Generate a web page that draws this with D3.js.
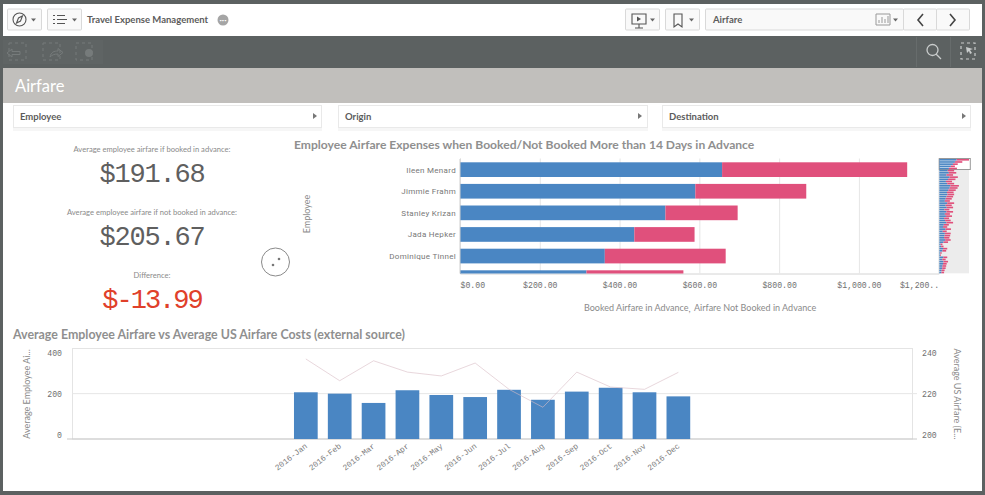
<!DOCTYPE html>
<html><head><meta charset="UTF-8"><title>Airfare</title>
<script src="https://cdn.jsdelivr.net/npm/d3@7"></script>
<style>
	html,body { margin:0; padding:0; background:#fff; overflow:hidden; }
	svg { display:block; }
	text { font-family:"Lato",sans-serif; }
	.mono { font-family:"Liberation Mono",monospace; }
	.bold { font-weight:700; }
</style>
</head><body>
<svg id="chart" width="985" height="495"></svg>
<script>
// bar chart data
var employees=["Ileen Menard","Jimmie Frahm","Stanley Krizan","Jada Hepker","Dominique Tinnel",""];
var booked=[657,590,515,437,363,317];
var notBooked=[464,278,181,151,303,243];
var priceTicks=[0,200,400,600,800,1000,1200];
// scrollbar overview, one row for each employee, top rows are the big chart
var miniBooked=[657,590,515,437,363,317,360,270,390,330,250,300,420,390,340,290,310,270,240,210,300,240,280,190,270,210,250,180,220,270,170,140,230,130,210,200,180,220,160,50,70,140,120,40,30,150,110,160,140,120,110,90,80];
var miniNotBooked=[464,278,181,151,303,243,280,250,310,280,230,260,320,300,280,250,250,250,230,190,260,230,240,190,250,190,230,190,210,250,190,160,210,150,220,210,200,210,170,70,90,160,140,50,30,150,130,170,140,140,130,110,100];
// combo chart data
var months=["2016-Jan","2016-Feb","2016-Mar","2016-Apr","2016-May","2016-Jun","2016-Jul","2016-Aug","2016-Sep","2016-Oct","2016-Nov","2016-Dec"];
var avgEmployee=[206,200,159,215,194,185,217,173,209,226,206,188];
var avgUS=[235.3,225.7,234.5,229.5,227.8,233.5,221.9,214,229.5,222.9,221.9,229.4];
var leftTicks=[0,200,400];
var rightTicks=[200,220,240];

var BLUE='#4a86c3', PINK='#e0507c', FRAME='#5c6161', TICK='#6f6f6f';
var svg=d3.select('#chart');

function txt(x,y,s,size,fill,anchor,cls){
	return svg.append('text').attr('x',x).attr('y',y).text(s)
	.attr('font-size',size).attr('fill',fill).attr('text-anchor',anchor||'start')
	.attr('class',cls||null);
}
function rect(x,y,w,h,fill,stroke){
	return svg.append('rect').attr('x',x).attr('y',y).attr('width',w).attr('height',h)
	.attr('fill',fill).attr('stroke',stroke||'none');
}
function icon(d,stroke,sw){
	return svg.append('path').attr('d',d).attr('fill','none')
	.attr('stroke',stroke).attr('stroke-width',sw||1);
}
function caret(x,y){
	svg.append('path').attr('d','M'+x+' '+y+'l5 0l-2.5 3z').attr('fill','#666');
}

// ---- frame and header ----
rect(0,0,985,495,FRAME);
rect(3,4,979,487,'#fff');
rect(3,36,979,32,FRAME);
rect(3,40,100,24,'#5f6464');
rect(3,68,979,35,'#c1bfbc');
txt(15,92,'Airfare',16.5,'#fff');

[[7,34],[47,34],[625,34],[665,34],[705,198],[903,33],[936,33]].forEach(function(b){
	rect(b[0]+.5,9,b[1],21,'#f9f9f9','#d9d9d9').attr('rx',1);
});
icon('M13 19.5a6.5 6.5 0 1 0 13 0a6.5 6.5 0 1 0 -13 0M16.5 23l2-5l4-2l-2 5z','#555',1.1);
caret(31,18.5);
icon('M53 15.5h2M53 19.5h2M53 23.5h2M57 15.5h8M57 19.5h10M57 23.5h8','#555',1.1);
caret(72,18.5);
txt(87,23,'Travel Expense Management',9.5,'#5c5c5c','start','bold');
svg.append('circle').attr('cx',223).attr('cy',20).attr('r',5.5).attr('fill','#a5a5a5');
txt(223,21.5,'•••',4,'#fff','middle');
icon('M632 14h14v10h-14zM639 24v4M635 28h8','#555',1.1);
svg.append('path').attr('d','M637 16.5l4 2.5l-4 2.5z').attr('fill','#555');
caret(650,18.5);
icon('M674 14h8v13l-4-3l-4 3z','#555',1.1);
caret(689,18.5);
txt(713,23,'Airfare',9.5,'#5c5c5c','start','bold');
icon('M876 14h14v11h-14zM879 23v-3M882 23v-6M885 23v-4M888 23v-7','#999',1);
caret(893,18.5);
icon('M923 14l-5 6l5 6','#444',1.6);
icon('M950 14l5 6l-5 6','#444',1.6);

// toolbar icons
icon('M9 43h17v17h-17zM43 43h17v17h-17zM76 43h16v17h-16z','#767b7b',1).attr('stroke-dasharray','3 3');
icon('M7 53l5-4v2.5h8v3h-8v2.5z','#767b7b',1);
icon('M50 57c1-5 4-6 8-6v-2.5l5 4l-5 4v-2.5c-4 0-6 1-8 3z','#767b7b',1);
svg.append('circle').attr('cx',89).attr('cy',53).attr('r',4).attr('fill','#767b7b');
icon('M916.5 37v30M950.5 37v30','#676c6c',1);
icon('M927 50a5.5 5.5 0 1 0 11 0a5.5 5.5 0 1 0 -11 0M936 54l5 5','#c9cccc',1.3);
icon('M961 43h14v16h-14z','#c9cccc',1.2).attr('stroke-dasharray','3 3');
svg.append('path').attr('d','M966 47l7 2l-3 1l2 3l-2 1l-1-3l-2 2z').attr('fill','#c9cccc');

// filter boxes
[[13,308,'Employee'],[338,309,'Origin'],[662,308,'Destination']].forEach(function(f){
	rect(f[0]+.5,105.5,f[1],22,'#fff','#e9e9e9');
	rect(f[0],128,f[1]+1,3,'#f6f6f6');
	txt(f[0]+7,120,f[2],9.5,'#5c5c5c','start','bold');
	svg.append('path').attr('d','M'+(f[0]+300)+' 113l4 3l-4 3z').attr('fill','#777');
});

// ---- KPI column ----
txt(152,151.5,'Average employee airfare if booked in advance:',7.6,'#8a8a8a','middle');
txt(152,182,'$191.68',27,'#5f5f5f','middle','mono').attr('letter-spacing',-1.2);
txt(152,214.5,'Average employee airfare if not booked in advance:',7.6,'#8a8a8a','middle');
txt(152,245,'$205.67',27,'#5f5f5f','middle','mono').attr('letter-spacing',-1.2);
txt(152,278,'Difference:',7.6,'#8a8a8a','middle');
txt(152,308,'$-13.99',27,'#e0402a','middle','mono').attr('letter-spacing',-2);
svg.append('circle').attr('cx',275.5).attr('cy',262).attr('r',14).attr('fill','#fff').attr('stroke','#8a8a8a').attr('stroke-width',1);
svg.append('circle').attr('cx',273).attr('cy',265).attr('r',1.3).attr('fill','#777');
svg.append('circle').attr('cx',279).attr('cy',259).attr('r',1.3).attr('fill','#777');

// ---- stacked bars ----
txt(294,149,'Employee Airfare Expenses when Booked/Not Booked More than 14 Days in Advance',12.1,'#8f8f8f','start','bold');

var xPrice=d3.scaleLinear().domain([0,1200]).range([460,938.7]);
var yEmp=d3.scaleBand().domain(employees).range([158.85,288.45]).paddingInner(.32).paddingOuter(.16);

svg.append('clipPath').attr('id','barClip').append('rect')
.attr('x',455).attr('y',158).attr('width',490).attr('height',115.5);

var gx=svg.append('g').attr('transform','translate(0,273.5)')
.call(d3.axisBottom(xPrice).tickValues(priceTicks).tickSize(-115).tickPadding(9)
	.tickFormat(function(d){ var s=d3.format('$,.2f')(d); return d==1200?'$1,200..':s; }));
gx.select('.domain').attr('stroke','#d4d4d4');
gx.selectAll('line').attr('stroke','#e6e6e6');
gx.selectAll('text').attr('class','mono').attr('font-size',8.2).attr('fill',TICK)
.attr('text-anchor',function(d){ return d==0?'start':(d==1200?'end':'middle'); });

var bars=svg.append('g').attr('clip-path','url(#barClip)');
bars.selectAll('rect.b').data(employees).enter().append('rect').attr('class','b')
.attr('x',xPrice(0)).attr('y',function(d){return yEmp(d);})
.attr('width',function(d,i){return xPrice(booked[i])-xPrice(0);})
.attr('height',yEmp.bandwidth()).attr('fill',BLUE);
bars.selectAll('rect.n').data(employees).enter().append('rect').attr('class','n')
.attr('x',function(d,i){return xPrice(booked[i]);}).attr('y',function(d){return yEmp(d);})
.attr('width',function(d,i){return xPrice(booked[i]+notBooked[i])-xPrice(booked[i]);})
.attr('height',yEmp.bandwidth()).attr('fill',PINK);

svg.append('g').selectAll('text').data(employees).enter().append('text')
.attr('x',456).attr('y',function(d){return yEmp(d)+yEmp.bandwidth()/2+3;})
.attr('text-anchor','end').attr('font-size',8).attr('letter-spacing',.3).attr('fill','#777')
.style('font-family','Roboto').text(function(d){return d;});

svg.append('line').attr('x1',460).attr('x2',460).attr('y1',159).attr('y2',273.5).attr('stroke','#cfcfcf');
txt(0,0,'Employee',9,'#8a8a8a','middle').attr('transform','translate(310,214) rotate(-90)');
txt(584,311,'Booked Airfare in Advance',9,'#8a8a8a');
txt(688.5,312,',',9,'#8a8a8a');
txt(694,311,'Airfare Not Booked in Advance',9,'#8a8a8a');

// overview strip on the right
var miniX=d3.scaleLinear().domain([0,1121]).range([939.3,969]);
var miniY=d3.scaleBand().domain(d3.range(miniBooked.length)).range([159,273.3]).paddingInner(.25);
rect(939.3,159,29.7,114.3,'#ececec');
rect(939.3,158.5,31,11,'#fff','#999');
var mini=svg.append('g');
mini.selectAll('rect.mb').data(miniBooked).enter().append('rect').attr('class','mb')
.attr('x',miniX(0)).attr('y',function(d,i){return miniY(i);})
.attr('width',function(d){return miniX(d)-miniX(0);}).attr('height',miniY.bandwidth()).attr('fill',BLUE);
mini.selectAll('rect.mn').data(miniNotBooked).enter().append('rect').attr('class','mn')
.attr('x',function(d,i){return miniX(miniBooked[i]);}).attr('y',function(d,i){return miniY(i);})
.attr('width',function(d,i){return miniX(miniBooked[i]+d)-miniX(miniBooked[i]);})
.attr('height',miniY.bandwidth()).attr('fill',PINK);

// ---- combo chart ----
txt(13,339,'Average Employee Airfare vs Average US Airfare Costs (external source)',12.4,'#8f8f8f','start','bold');

var xMonth=d3.scaleBand().domain(months).range([288.9,695.3]).paddingInner(.3).paddingOuter(.15);
var yLeft=d3.scaleLinear().domain([0,400]).range([439,348.3]);
var yRight=d3.scaleLinear().domain([200,240]).range([439,348.3]);

rect(72.5,348.5,840,90.5,'#fff','#e4e4e4');
svg.append('line').attr('x1',72).attr('x2',917).attr('y1',yLeft(200)).attr('y2',yLeft(200)).attr('stroke','#e6e6e6');
svg.append('line').attr('x1',67).attr('x2',917).attr('y1',439).attr('y2',439).attr('stroke','#c9c9c9');

var labelDy={0:-5,200:0,400:4.5};
var gl=svg.append('g').attr('transform','translate(72,0)')
.call(d3.axisLeft(yLeft).tickValues(leftTicks).tickSize(0).tickPadding(10).tickFormat(d3.format('d')));
gl.select('.domain').remove();
gl.selectAll('text').attr('class','mono').attr('font-size',8.2).attr('fill',TICK)
.attr('dy',function(d){return (labelDy[d]+3)+'px';});
var labelDyR={200:-5,220:0,240:4.5};
var gr=svg.append('g').attr('transform','translate(912,0)')
.call(d3.axisRight(yRight).tickValues(rightTicks).tickSize(0).tickPadding(10).tickFormat(d3.format('d')));
gr.select('.domain').remove();
gr.selectAll('text').attr('class','mono').attr('font-size',8.2).attr('fill',TICK)
.attr('dy',function(d){return (labelDyR[d]+3)+'px';});

svg.append('g').selectAll('rect').data(months).enter().append('rect')
.attr('x',function(d){return xMonth(d);}).attr('y',function(d,i){return yLeft(avgEmployee[i]);})
.attr('width',xMonth.bandwidth()).attr('height',function(d,i){return 439-yLeft(avgEmployee[i]);})
.attr('fill',BLUE);

var usLine=d3.line().x(function(d,i){return xMonth(months[i])+xMonth.bandwidth()/2;})
.y(function(d){return yRight(d);});
svg.append('path').attr('d',usLine(avgUS)).attr('fill','none')
.attr('stroke','#d9bcc4').attr('stroke-width',1).attr('stroke-opacity',.6);

svg.append('g').selectAll('text').data(months).enter().append('text')
.attr('transform',function(d){return 'translate('+(xMonth(d)+xMonth.bandwidth()/2+2)+',447) rotate(-38)';})
.attr('text-anchor','end').attr('class','mono').attr('font-size',8).attr('fill','#7d7d7d')
.text(function(d){return d;});

txt(0,0,'Average Employee Ai...',9,'#8a8a8a','middle').attr('transform','translate(30,394) rotate(-90)');
txt(0,0,'Average US Airfare (E...',9,'#8a8a8a','middle').attr('transform','translate(954,394) rotate(90)');
</script>
</body></html>
